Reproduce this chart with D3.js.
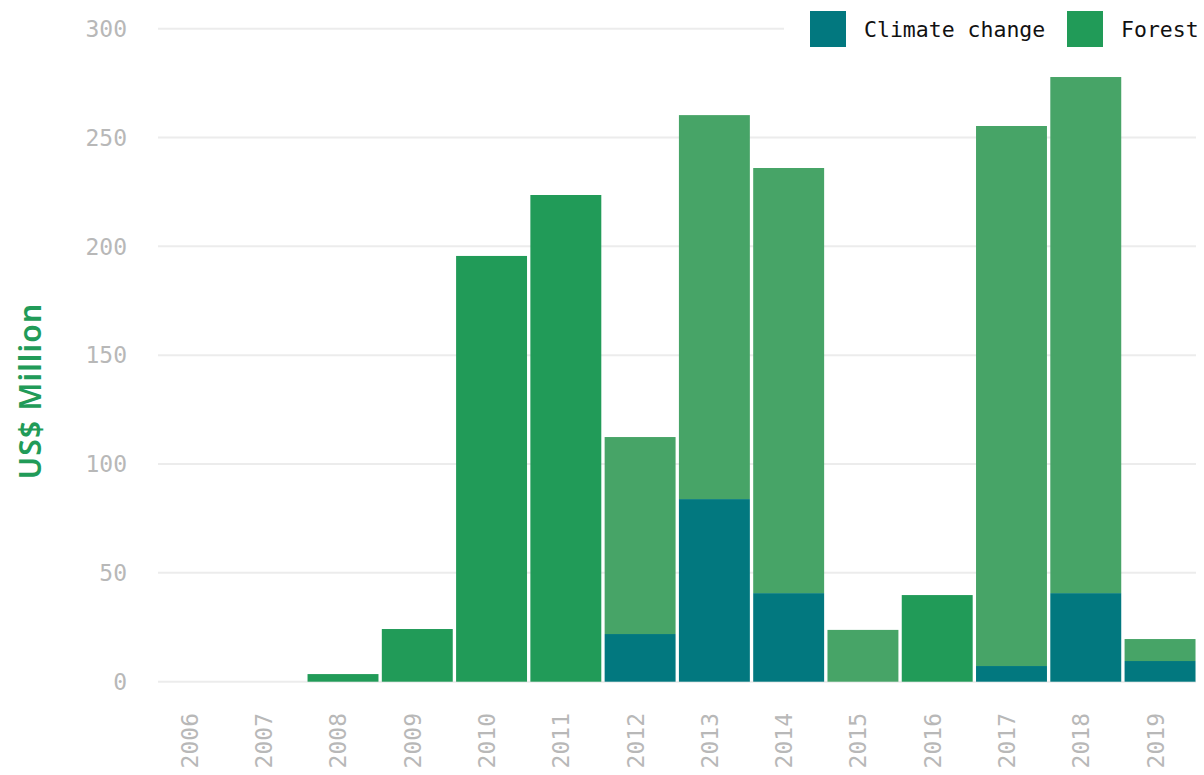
<!DOCTYPE html>
<html>
<head>
<meta charset="utf-8">
<script src="https://cdn.jsdelivr.net/npm/d3@7"></script>
<style>
  html, body { margin: 0; padding: 0; background: #fff; }
  svg { display: block; }
</style>
</head>
<body>
<svg id="chart" width="1204" height="775"></svg>
<script>
// Yearly funding, US$ million
const years = ["2006","2007","2008","2009","2010","2011","2012","2013","2014","2015","2016","2017","2018","2019"];
// null = no entry for that theme in that year
const climateChange = [null, null, null, null, null, null, 21.9, 83.9, 40.7, 0, null, 7.2, 40.7, 9.5];
const forest        = [null, null, 3.5, 24.2, 195.6, 223.6, 90.5, 176.4, 195.3, 23.8, 39.8, 248.1, 237.1, 10.1];
const yTicks = [0, 50, 100, 150, 200, 250, 300];
const seriesNames = ["Climate change", "Forest"];

const COL_CLIMATE = "#02787f";
const COL_FOREST = "#219b58";
const COL_FOREST_MIXED = "#47a467"; // forest share in years that also fund climate work

const svg = d3.select("#chart");
const W = 1204, H = 775;

const x = d3.scaleBand().domain(years).range([157.5, 1197]).paddingInner(0.045).paddingOuter(0.02);
const y = d3.scaleLinear().domain([0, 300]).range([681.7, 28.7]);

const mono = "'DejaVu Sans Mono', 'Liberation Mono', monospace";

// gridlines
svg.append("g")
  .selectAll("line")
  .data(yTicks)
  .join("line")
  .attr("x1", 158).attr("x2", 1196)
  .attr("y1", d => y(d)).attr("y2", d => y(d))
  .attr("stroke", "#ececec").attr("stroke-width", 2);

// y tick labels
svg.append("g")
  .selectAll("text")
  .data(yTicks)
  .join("text")
  .attr("x", 127).attr("y", d => y(d))
  .attr("dy", "0.36em")
  .attr("text-anchor", "end")
  .attr("font-family", mono).attr("font-size", 23)
  .attr("fill", "#b8b8b8")
  .text(d => d);

// stacked bars: climate change at the bottom, forest on top
const rows = years.map((yr, i) => ({
  year: yr,
  climate: climateChange[i],
  forest: forest[i]
}));

const bars = svg.append("g");
bars.selectAll("rect.climate")
  .data(rows.filter(d => d.climate))
  .join("rect")
  .attr("class", "climate")
  .attr("x", d => x(d.year)).attr("width", x.bandwidth())
  .attr("y", d => y(d.climate)).attr("height", d => y(0) - y(d.climate))
  .attr("fill", COL_CLIMATE);

bars.selectAll("rect.forest")
  .data(rows.filter(d => d.forest))
  .join("rect")
  .attr("class", "forest")
  .attr("x", d => x(d.year)).attr("width", x.bandwidth())
  .attr("y", d => y((d.climate || 0) + d.forest))
  .attr("height", d => y(d.climate || 0) - y((d.climate || 0) + d.forest))
  .attr("fill", d => d.climate === null ? COL_FOREST : COL_FOREST_MIXED);

// x labels, rotated
svg.append("g")
  .selectAll("text")
  .data(years)
  .join("text")
  .attr("transform", d => `translate(${x(d) + x.bandwidth() / 2},713) rotate(-90)`)
  .attr("dy", "0.15em")
  .attr("text-anchor", "end")
  .attr("font-family", mono).attr("font-size", 23)
  .attr("fill", "#b8b8b8")
  .text(d => d);

// y axis title
svg.append("text")
  .attr("transform", "translate(41,391) rotate(-90)")
  .attr("text-anchor", "middle")
  .attr("font-family", "'Noto Sans', 'Open Sans', sans-serif")
  .attr("font-weight", 600)
  .attr("font-size", 30)
  .attr("letter-spacing", 1.2)
  .attr("fill", COL_FOREST)
  .text("US$ Million");

// legend, on a white panel
const legend = svg.append("g");
legend.append("rect")
  .attr("x", 784).attr("y", 0).attr("width", W - 784).attr("height", 56)
  .attr("fill", "#fff");
const legendX = [810, 1067];
const legendCols = [COL_CLIMATE, COL_FOREST];
const items = legend.selectAll("g.item")
  .data(seriesNames)
  .join("g")
  .attr("class", "item")
  .attr("transform", (d, i) => `translate(${legendX[i]},11)`);
items.append("rect")
  .attr("width", 36).attr("height", 36)
  .attr("fill", (d, i) => legendCols[i]);
items.append("text")
  .attr("x", 54).attr("y", 18).attr("dy", "0.36em")
  .attr("font-family", mono).attr("font-size", 21.5)
  .attr("fill", "#111")
  .text(d => d);
</script>
</body>
</html>
